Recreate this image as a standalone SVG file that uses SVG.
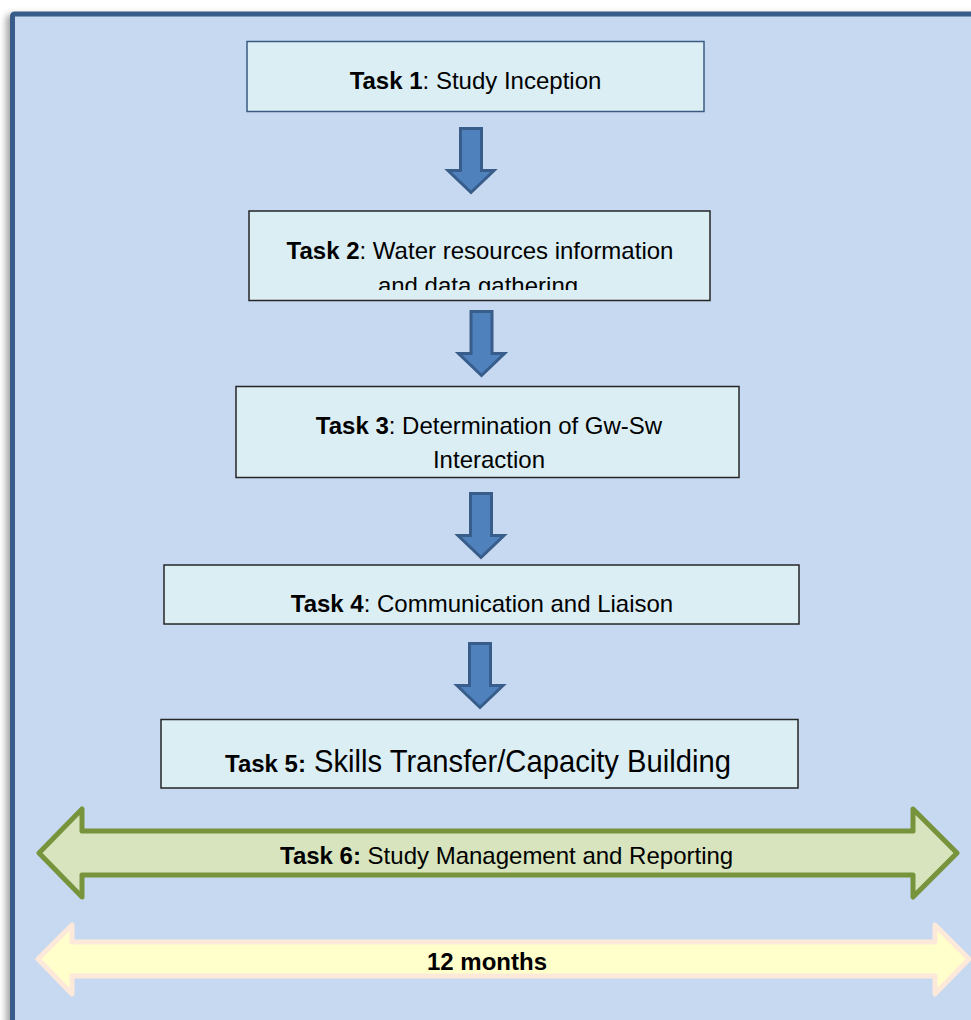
<svg xmlns="http://www.w3.org/2000/svg" width="971" height="1020" viewBox="0 0 971 1020">
  <style>
    .task { fill: #dbeef4; stroke: #262626; stroke-width: 1.5; }
    .task1 { stroke: #3a5a82; }
    .lbl { font-family: "Liberation Sans", Arial, sans-serif; font-size: 24px; fill: #000; }
    .b { font-weight: bold; }
    .down { fill: #4f81bd; stroke: #385d8a; stroke-width: 3; stroke-linejoin: miter; }
  </style>
  <defs>
    <filter id="frameShadow" x="-5%" y="-5%" width="110%" height="110%">
      <feDropShadow dx="-4" dy="3" stdDeviation="3" flood-color="#7f7f7f" flood-opacity="0.7"/>
    </filter>
    <path id="downArrow" d="M-10.5,0 H10.5 V42 H23 L0,64 L-23,42 H-10.5 Z"/>
    <clipPath id="clipTask2">
      <rect x="249" y="211" width="461" height="79"/>
    </clipPath>
  </defs>

  <rect width="971" height="1020" fill="#ffffff"/>

  <!-- outer frame -->
  <g id="frame">
    <rect x="12.5" y="14" width="990" height="1040" rx="2" fill="#c6d9f1" stroke="#385d8a" stroke-width="5" filter="url(#frameShadow)"/>
  </g>

  <!-- flow arrows between tasks -->
  <g id="connectors">
    <use href="#downArrow" class="down" transform="translate(471,128.5)"/>
    <use href="#downArrow" class="down" transform="translate(481.5,311.5)"/>
    <use href="#downArrow" class="down" transform="translate(481,493.5)"/>
    <use href="#downArrow" class="down" transform="translate(480,643.5)"/>
  </g>

  <g id="task1">
    <rect class="task task1" x="247" y="41.5" width="457" height="70"/>
    <text class="lbl" x="475.5" y="89" text-anchor="middle"><tspan class="b">Task 1</tspan>: Study Inception</text>
  </g>

  <g id="task2">
    <rect class="task" x="249" y="211" width="461" height="89.5"/>
    <g clip-path="url(#clipTask2)">
      <text class="lbl" x="480" y="259" text-anchor="middle"><tspan class="b">Task 2</tspan>: Water resources information</text>
      <text class="lbl" x="478" y="294" text-anchor="middle">and data gathering</text>
    </g>
  </g>

  <g id="task3">
    <rect class="task" x="236" y="386.5" width="503" height="91"/>
    <text class="lbl" x="489" y="434" text-anchor="middle"><tspan class="b">Task 3</tspan>: Determination of Gw-Sw</text>
    <text class="lbl" x="489" y="468" text-anchor="middle">Interaction</text>
  </g>

  <g id="task4">
    <rect class="task" x="164" y="565" width="635" height="59"/>
    <text class="lbl" x="482" y="612" text-anchor="middle"><tspan class="b">Task 4</tspan>: Communication and Liaison</text>
  </g>

  <g id="task5">
    <rect class="task" x="161" y="719.5" width="637" height="68.5"/>
    <text class="lbl" x="225" y="772"><tspan class="b" font-size="24">Task 5:</tspan><tspan font-size="32" dx="8" textLength="417" lengthAdjust="spacingAndGlyphs">Skills Transfer/Capacity Building</tspan></text>
  </g>

  <g id="task6">
    <path d="M39,853 L82,809 V831 H913 V809 L957,853 L913,897 V875 H82 V897 Z" fill="#d7e4bd" stroke="#77933c" stroke-width="5" stroke-linejoin="round"/>
    <text class="lbl" x="280" y="864"><tspan class="b">Task 6:</tspan> Study Management and Reporting</text>
  </g>

  <g id="duration">
    <path d="M38,959 L72,925 V942 H935 V925 L969,959 L935,994 V976 H72 V994 Z" fill="#ffffcc" stroke="#fde9d9" stroke-width="5" stroke-linejoin="round"/>
    <text class="lbl b" x="487" y="970" font-size="19" text-anchor="middle">12 months</text>
  </g>
</svg>
